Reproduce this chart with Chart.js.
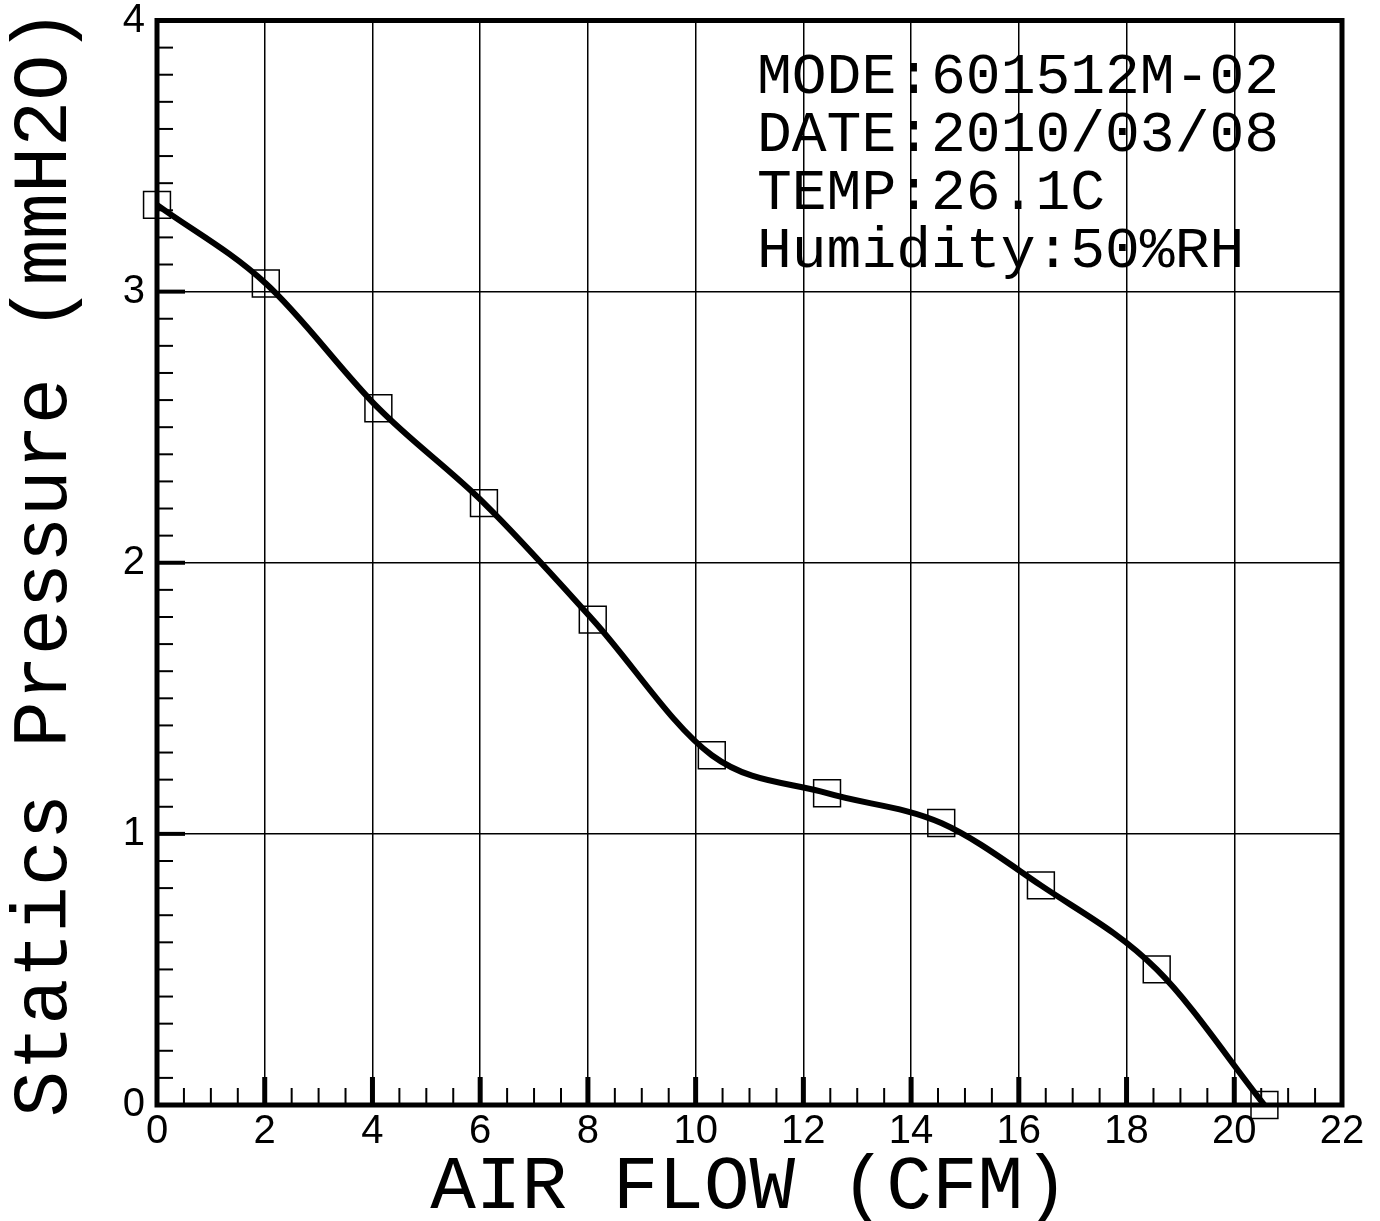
<!DOCTYPE html>
<html><head><meta charset="utf-8">
<script src="https://cdn.jsdelivr.net/npm/chart.js@4.4.1/dist/chart.umd.min.js"></script>
<style>html,body{margin:0;padding:0;background:#fff}#wrap{width:1380px;height:1221px}</style>
</head><body><div id="wrap"><canvas id="c" width="1380" height="1221"></canvas></div>
<script>
// ---- data ----
const airFlow  = [0, 2.02, 4.11, 6.07, 8.09, 10.3, 12.44, 14.56, 16.41, 18.56, 20.56];
const pressure = [3.32, 3.03, 2.57, 2.22, 1.79, 1.29, 1.15, 1.04, 0.81, 0.50, 0.0];
const xRange = [0, 22];
const yRange = [0, 4];
const xMajorStep = 2, xMinorStep = 0.5;
const yMajorStep = 1, yMinorStep = 0.1;
const infoLines = ['MODE:601512M-02', 'DATE:2010/03/08', 'TEMP:26.1C', 'Humidity:50%RH'];
const xTitle = 'AIR FLOW (CFM)';
const yTitle = 'Statics Pressure (mmH2O)';

const points = airFlow.map((x, i) => ({x, y: pressure[i]}));

const frameTicks = {
  id: 'frameTicks',
  afterDraw(chart) {
    const {ctx, chartArea: a, scales: {x, y}} = chart;
    ctx.save();
    ctx.strokeStyle = '#000';
    const nx = Math.round((xRange[1] - xRange[0]) / xMinorStep);
    for (let i = 1; i < nx; i++) {
      const v = xRange[0] + i * xMinorStep;
      const px = x.getPixelForValue(v);
      const major = Math.abs(v / xMajorStep - Math.round(v / xMajorStep)) < 1e-6;
      ctx.lineWidth = major ? 5 : 2;
      ctx.beginPath();
      ctx.moveTo(px, a.bottom);
      ctx.lineTo(px, a.bottom - (major ? 28 : 17));
      ctx.stroke();
    }
    const ny = Math.round((yRange[1] - yRange[0]) / yMinorStep);
    for (let i = 1; i < ny; i++) {
      const v = yRange[0] + i * yMinorStep;
      const py = y.getPixelForValue(v);
      const major = Math.abs(v / yMajorStep - Math.round(v / yMajorStep)) < 1e-6;
      ctx.lineWidth = major ? 4 : 2;
      ctx.beginPath();
      ctx.moveTo(a.left, py);
      ctx.lineTo(a.left + (major ? 28 : 16), py);
      ctx.stroke();
    }
    ctx.lineWidth = 5;
    ctx.strokeRect(a.left, a.top, a.right - a.left, a.bottom - a.top);
    ctx.fillStyle = '#000';
    ctx.font = '58px "Liberation Mono"';
    ctx.textBaseline = 'alphabetic';
    ctx.textAlign = 'left';
    infoLines.forEach((t, i) => ctx.fillText(t, 757, 93 + i * 58));
    ctx.restore();
  }
};

new Chart(document.getElementById('c'), {
  type: 'scatter',
  data: {
    datasets: [{
      data: points,
      showLine: true,
      borderColor: '#000',
      borderWidth: 6,
      cubicInterpolationMode: 'monotone',
      pointStyle: 'rect',
      pointRadius: 19,
      pointHoverRadius: 19,
      pointBorderWidth: 1.5,
      pointBorderColor: '#000',
      pointBackgroundColor: 'rgba(0,0,0,0)',
      clip: false
    }]
  },
  options: {
    responsive: false,
    animation: false,
    events: [],
    layout: {padding: {top: 18, right: 38, left: 0, bottom: 0}},
    plugins: {legend: {display: false}, tooltip: {enabled: false}},
    scales: {
      x: {
        type: 'linear', min: xRange[0], max: xRange[1],
        afterFit: s => { s.height = 116; s.paddingLeft = 0; s.paddingRight = 0; },
        ticks: {stepSize: xMajorStep, color: '#000', padding: 3,
                font: {family: '"Liberation Sans", Arial', size: 40}},
        grid: {color: '#000', lineWidth: 1.5, drawTicks: false},
        border: {display: false},
        title: {display: true, text: xTitle, color: '#000',
                font: {family: '"Liberation Mono", monospace', size: 76, lineHeight: 0.8},
                padding: {top: 0, bottom: 3}}
      },
      y: {
        type: 'linear', min: yRange[0], max: yRange[1],
        afterFit: s => { s.width = 157; s.paddingTop = 0; s.paddingBottom = 0; },
        ticks: {stepSize: yMajorStep, color: '#000', padding: 12,
                font: {family: '"Liberation Sans", Arial', size: 40}},
        grid: {color: '#000', lineWidth: 1.5, drawTicks: false},
        border: {display: false},
        title: {display: true, text: yTitle, color: '#000',
                font: {family: '"Liberation Mono", monospace', size: 77, lineHeight: 0.8},
                padding: {top: 15, bottom: 0}}
      }
    }
  },
  plugins: [frameTicks]
});
</script></body></html>
